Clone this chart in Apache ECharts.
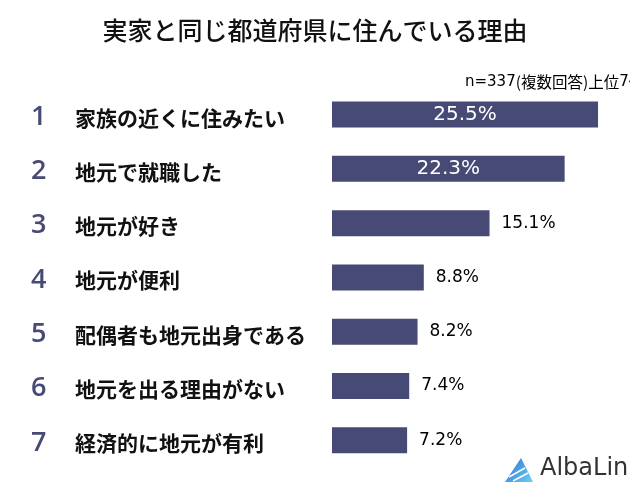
<!DOCTYPE html>
<html><head><meta charset="utf-8">
<script src="https://cdn.jsdelivr.net/npm/echarts@6/dist/echarts.min.js"></script>
<style>html,body{margin:0;padding:0;background:#fff}#c{width:630px;height:487px}</style>
</head><body><div id="c"></div>
<script>
const ranks = ['1','2','3','4','5','6','7'];
const categories = ['家族の近くに住みたい','地元で就職した','地元が好き','地元が便利','配偶者も地元出身である','地元を出る理由がない','経済的に地元が有利'];
const values = [25.5, 22.3, 15.1, 8.8, 8.2, 7.4, 7.2];
const insideCount = 2;

const chart = echarts.init(document.getElementById('c'));
const barColor = '#474a74';
const jp = '"Noto Sans CJK JP", "Noto Sans", sans-serif';
const num = '"DejaVu Sans", Verdana, sans-serif';

chart.setOption({
  animation: false,
  title: {
    text: '実家と同じ都道府県に住んでいる理由',
    left: 'center', top: 13,
    textStyle: {fontFamily: jp, fontSize: 25, fontWeight: 500, color: '#111'}
  },
  graphic: [
    {type: 'text', x: 465, y: 82, style: {
      text: '{a|n=337}{b|(複数回答)上位}{a|7}{b|位}',
      verticalAlign: 'middle',
      rich: {
        a: {fontFamily: num, fontSize: 15, color: '#222'},
        b: {fontFamily: jp, fontSize: 15.5, color: '#222'}
      }
    }},
    {type: 'polygon', shape: {points: [[521,458],[505,482],[533,482]]}, style: {fill: new echarts.graphic.LinearGradient(0,0,1,1,[{offset:0,color:'#2a6fd6'},{offset:1,color:'#6fd0f0'}])}},
    {type: 'polyline', shape: {points: [[509,477],[525,468]]}, style: {stroke: '#fff', lineWidth: 1.5}},
    {type: 'polyline', shape: {points: [[513,481],[528,473]]}, style: {stroke: '#fff', lineWidth: 1.5}},
    {type: 'text', x: 540, y: 469, style: {text: 'AlbaLin', font: '24px "DejaVu Sans", sans-serif', fill: '#333', verticalAlign: 'middle'}}
  ],
  grid: {left: 332, top: 87.4, width: 292.1, height: 380.1, containLabel: false},
  xAxis: {type: 'value', min: 0, max: 28, show: false},
  yAxis: {
    type: 'category', inverse: true,
    data: categories,
    axisLine: {show: false}, axisTick: {show: false}, splitLine: {show: false},
    axisLabel: {
      align: 'left', margin: 301,
      formatter: (v, i) => '{n|' + ranks[i] + '}{t|' + v + '}',
      rich: {
        n: {fontFamily: '"Open Sans", "DejaVu Sans", sans-serif', fontSize: 27, fontWeight: 600, color: barColor, width: 44, padding: [5,0,0,0]},
        t: {fontFamily: jp, fontSize: 21, color: '#111', fontWeight: 'bold', padding: [6,0,0,0]}
      }
    }
  },
  series: [{
    type: 'bar', data: values.map((v, i) => ({
      value: v,
      label: i < insideCount
        ? {position: 'inside', color: '#fff', fontSize: 20}
        : {position: 'right', distance: 12, color: '#000', fontSize: 17}
    })),
    barWidth: 26,
    itemStyle: {color: barColor},
    label: {show: true, fontFamily: num, formatter: p => p.value.toFixed(1) + '%'}
  }]
});
</script></body></html>
